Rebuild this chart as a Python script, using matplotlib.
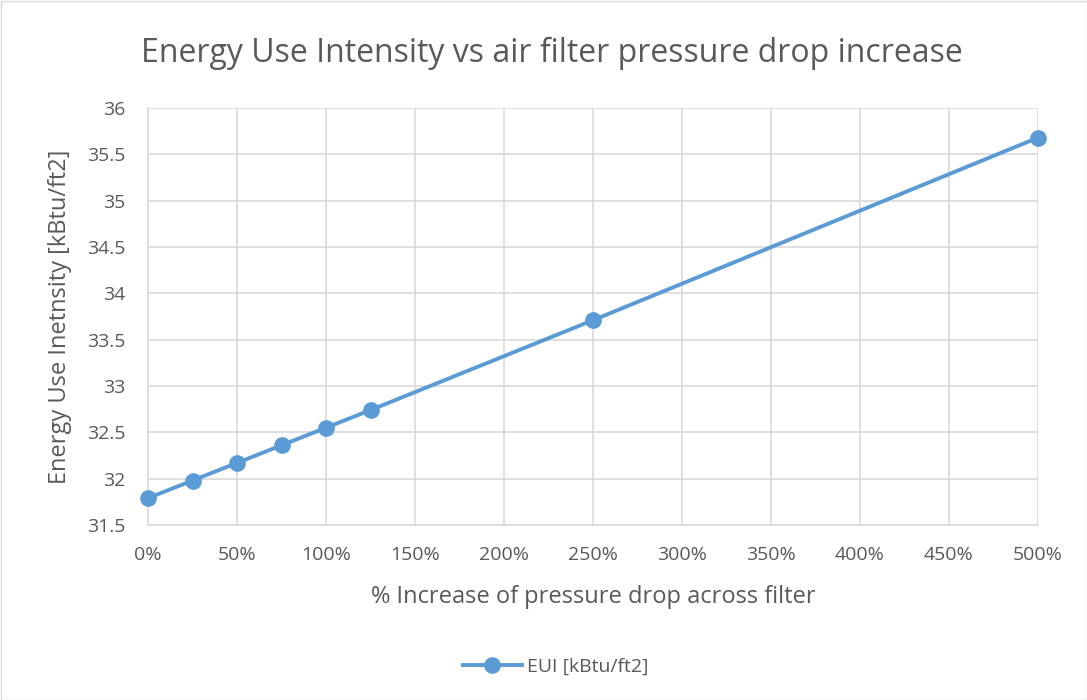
import matplotlib.pyplot as plt
from matplotlib.patches import Rectangle

plt.rcParams['font.family'] = ['Open Sans', 'DejaVu Sans']

# % increase of pressure drop and resulting EUI
increase = [0, 25, 50, 75, 100, 125, 250, 500]
eui = [31.79, 31.98, 32.17, 32.36, 32.55, 32.74, 33.71, 35.68]

x_ticks = list(range(0, 501, 50))
y_ticks = [31.5, 32, 32.5, 33, 33.5, 34, 34.5, 35, 35.5, 36]

text_col = '#595959'
line_col = '#5B9BD5'
grid_col = '#D9D9D9'

fig = plt.figure(figsize=(10.87, 7), dpi=100)
ax = fig.add_axes([148 / 1087, 1 - 525 / 700, 890 / 1087, 417 / 700])

ax.plot(increase, eui, color=line_col, lw=2.8, marker='o', ms=11,
        label='EUI [kBtu/ft2]', zorder=3, clip_on=False)

ax.set_xlim(0, 500)
ax.set_ylim(31.5, 36)
ax.set_xticks(x_ticks)
ax.set_xticklabels([f'{v}%' for v in x_ticks])
ax.set_yticks(y_ticks)
ax.set_yticklabels([f'{v:g}' for v in y_ticks])
ax.grid(True, color=grid_col, lw=1.2)
ax.set_axisbelow(True)
for s in ['top', 'right']:
    ax.spines[s].set_visible(False)
for s in ['left', 'bottom']:
    ax.spines[s].set_color(grid_col)
    ax.spines[s].set_linewidth(1.2)
ax.tick_params(length=0, labelsize=14, colors=text_col)
ax.tick_params(axis='x', pad=15)
ax.tick_params(axis='y', pad=16)

ax.set_xlabel('% Increase of pressure drop across filter', fontsize=17,
              color=text_col, va='center')
ax.xaxis.set_label_coords(0.5, -0.173)
ax.set_ylabel('Energy Use Inetnsity [kBtu/ft2]', fontsize=17,
              color=text_col, va='center')
ax.yaxis.set_label_coords(-0.099, 0.5)

fig.text(552 / 1087, 1 - 53 / 700, 'Energy Use Intensity vs air filter pressure drop increase',
         fontsize=23, color=text_col, ha='center', va='center')

fig.legend(loc='center', bbox_to_anchor=(556 / 1087, 1 - 667 / 700), frameon=False,
           fontsize=14, labelcolor=text_col, handlelength=3, handletextpad=0.3)

fig.patches.append(Rectangle((0.5 / 1087, 0.5 / 700), 1 - 1 / 1087, 1 - 1 / 700,
                             transform=fig.transFigure, fill=False,
                             edgecolor='#D9D9D9', lw=1))

fig.savefig('out.png', dpi=100)
